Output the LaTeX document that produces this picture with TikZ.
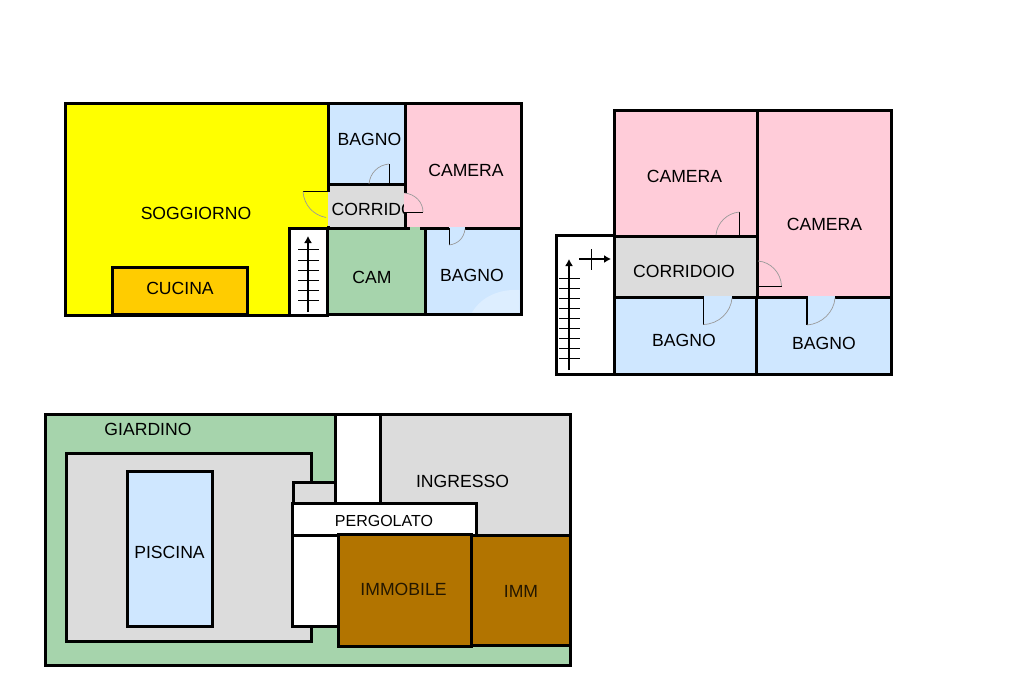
\documentclass[tikz,border=0pt]{standalone}
\usepackage{fontspec}
\usetikzlibrary{arrows.meta}
\setmainfont{Liberation Sans}
\definecolor{giallo}{HTML}{FFFF00}
\definecolor{arancio}{HTML}{FFCC00}
\definecolor{azzurro}{HTML}{CFE7FF}
\definecolor{rosa}{HTML}{FFCCD9}
\definecolor{grigio}{HTML}{DCDCDC}
\definecolor{verde}{HTML}{A6D4AC}
\definecolor{marrone}{HTML}{B27400}
\definecolor{porta}{HTML}{9A9A9A}
\tikzset{
  room/.style={draw=black,line width=3pt,miter limit=2},
  lbl/.style={font=\fontsize{17.6}{18}\selectfont,inner sep=0pt},
  doorleaf/.style={draw=black,line width=1pt},
  doorarc/.style={draw=porta,line width=0.7pt},
  stairline/.style={draw=black,line width=1.3pt},
  stairtick/.style={draw=black,line width=0.7pt},
  stairtip/.style={-{Latex[length=7pt,width=8pt]}},
}
\begin{document}
\begin{tikzpicture}[x=1pt,y=-1pt]
  \useasboundingbox (0,0) rectangle (1024,682);
  % piano superiore sinistro
  \draw[room,fill=giallo] (65.5,103.5) -- (328,103.5) -- (328,228) -- (289.5,228) -- (289.5,315) -- (65.5,315) -- cycle;
  \draw[room,fill=arancio] (112,267.5) rectangle (247.5,314);
  \draw[room,fill=azzurro] (328,103.5) rectangle (405.5,184);
  \draw[room,fill=grigio] (328,184) rectangle (405.5,228);
  \node[lbl,anchor=west] (corrid) at (331.5,209.5) {CORRIDOIO};
  \draw[room,fill=rosa] (405.5,103.5) rectangle (521,228);
  \draw[room,fill=white] (289.5,228) rectangle (327,315);
  \draw[room,fill=verde] (327,228) rectangle (425,314);
  \draw[room,fill=azzurro] (425,228) rectangle (521,314);
  \fill[white,opacity=0.3] (472,312.5) .. controls (482,296) and (500,289) .. (519.5,290) -- (519.5,312.5) -- cycle;
  \node[lbl] (sogg) at (196,213.5) {SOGGIORNO};
  \node[lbl] (cucina) at (180,288) {CUCINA};
  \node[lbl] (bagnoa) at (369.5,139) {BAGNO};
  \node[lbl] (camera) at (466,170.5) {CAMERA};
  \node[lbl] (cam) at (372,277.5) {CAM};
  \node[lbl] (bagnob) at (472,275.5) {BAGNO};
  % porte
  \fill[giallo] (326.5,192) rectangle (328,226);
  \fill[grigio] (328,192) rectangle (329.5,226);
  \draw[doorleaf] (303,191.5) -- (328,191.5);
  \draw[doorarc] (303,191.5) .. controls (304,205) and (313,215) .. (326,217.5);
  \draw[doorleaf] (389,164) -- (389,184);
  \draw[doorarc] (389,164) .. controls (378,165) and (370,173) .. (369,184);
  \fill[rosa] (404,193) rectangle (407,212);
  \draw[doorleaf] (404.5,212) -- (423,212);
  \draw[doorarc] (423,212) .. controls (423,202) and (415,194) .. (404.5,193);
  \fill[azzurro] (449,226.5) rectangle (465,229.5);
  \draw[doorleaf] (449,228) -- (449,245);
  \draw[doorarc] (449,245) .. controls (458,244) and (464,238) .. (465,229);
  \fill[verde] (410,226.5) rectangle (420,229.5);
  % scala sinistra
  \draw[stairline,stairtip] (308,312) -- (308,236);
  \foreach \y in {249,260,270,280,290,300}
    \draw[stairtick] (298,\y) -- (319,\y);
  % piano superiore destro
  \draw[room,fill=white] (556,235.5) rectangle (614,374.5);
  \draw[room,fill=rosa] (614,110.5) rectangle (757,236);
  \draw[room,fill=rosa] (757,110.5) rectangle (891,297);
  \draw[room,fill=grigio] (614,236) rectangle (757,297);
  \draw[room,fill=azzurro] (614,297) rectangle (756.5,374.5);
  \draw[room,fill=azzurro] (756.5,297) rectangle (891,374.5);
  \node[lbl] (camerac) at (684.5,176.5) {CAMERA};
  \node[lbl] (camerad) at (824.5,224.5) {CAMERA};
  \node[lbl] (corridoio) at (684,271.5) {CORRIDOIO};
  \node[lbl] (bagnoc) at (684,340.5) {BAGNO};
  \node[lbl] (bagnod) at (824,343.5) {BAGNO};
  % porte
  \draw[doorleaf] (739.5,212) -- (739.5,235);
  \draw[doorarc] (739.5,212) .. controls (727,213) and (717,223) .. (716,235);
  \fill[azzurro] (704,295.5) rectangle (732,298.5);
  \draw[doorleaf] (703.5,297) -- (703.5,324.5);
  \draw[doorarc] (703.5,324.5) .. controls (719,324) and (731,312) .. (732,298);
  \fill[azzurro] (808,295.5) rectangle (835,298.5);
  \draw[doorleaf,line width=1.6pt] (807,297) -- (807,325);
  \draw[doorarc] (807,325) .. controls (822,324) and (834,312) .. (835,298);
  \draw[doorleaf] (758,286) -- (781.5,286);
  \draw[doorarc] (781.5,286) .. controls (781,273) and (771,262) .. (758,261);
  % scala destra
  \draw[stairline,stairtip] (569,370) -- (569,259);
  \foreach \y in {278,288,298,308,318,328,338,348,358}
    \draw[stairtick] (559,\y) -- (580,\y);
  \draw[stairline,stairtip] (579,259) -- (611,259);
  \draw[stairtick] (591.5,249) -- (591.5,270);
  % piano terra
  \draw[room,fill=verde] (45.5,414.5) rectangle (570.5,665);
  \draw[room,fill=grigio] (66,453.5) rectangle (311.5,641);
  \draw[room,fill=azzurro] (127.5,471.5) rectangle (212.5,626);
  \draw[room,fill=grigio] (293.5,482.5) rectangle (335,503);
  \draw[room,fill=white] (335,414.5) rectangle (380,503);
  \draw[room,fill=grigio] (380,414.5) rectangle (570.5,536);
  \draw[room,fill=white] (292.5,535) rectangle (338,626);
  \draw[room,fill=white] (292.5,503.5) rectangle (476.5,535);
  \draw[room,fill=marrone] (338.5,534.5) rectangle (471,646);
  \draw[room,fill=marrone] (471,535.5) rectangle (570,645);
  \node[lbl] (giardino) at (148,429.5) {GIARDINO};
  \node[lbl] (piscina) at (169.5,552.5) {PISCINA};
  \node[lbl] (ingresso) at (462.5,481.5) {INGRESSO};
  \node[lbl,font=\fontsize{16}{18}\selectfont] (pergolato) at (384,521) {PERGOLATO};
  \node[lbl,text=black!80!marrone] (immobile) at (403.5,589.5) {IMMOBILE};
  \node[lbl,text=black!80!marrone] (imm) at (521,591.5) {IMM};
\end{tikzpicture}
\end{document}
